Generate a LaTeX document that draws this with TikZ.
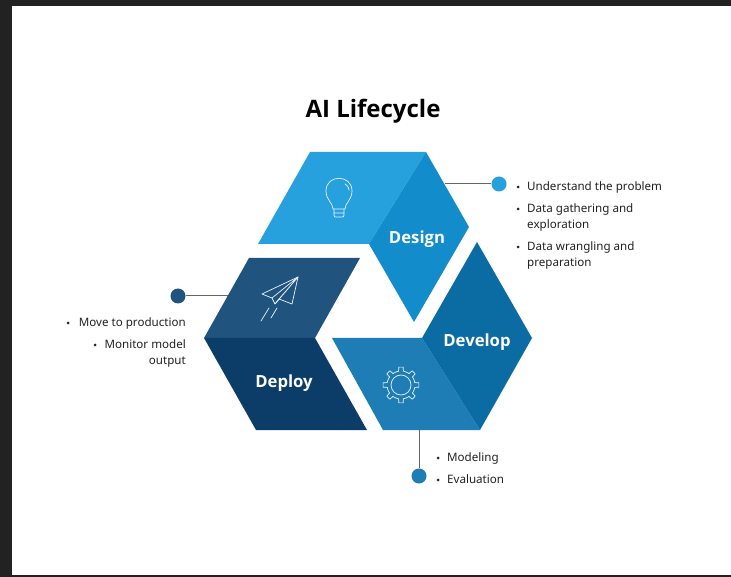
\documentclass[tikz,border=0pt]{standalone}
\usepackage{fontspec}
\setmainfont{Noto Sans}
\newfontfamily\heavyfont{Open Sans}[BoldFont={Open Sans Bold}]
\usepackage{tikz}
\definecolor{frame}{HTML}{222222}
\definecolor{lightdesign}{HTML}{27A0DE}
\definecolor{darkdesign}{HTML}{128CCB}
\definecolor{lightdevelop}{HTML}{1E7DB4}
\definecolor{darkdevelop}{HTML}{0B6BA3}
\definecolor{lightdeploy}{HTML}{20547E}
\definecolor{darkdeploy}{HTML}{0B3D68}
\definecolor{ink}{HTML}{222222}
\begin{document}
\begin{tikzpicture}[x=1pt,y=-1pt,
  title/.style={font=\heavyfont\fontsize{24}{30}\selectfont\bfseries,text=black,inner sep=0pt},
  phase/.style={font=\heavyfont\fontsize{16.7}{20}\selectfont\bfseries,text=white,inner sep=0pt},
  item/.style={font=\fontsize{11.6}{16}\selectfont,text=ink,inner sep=0pt,align=left,anchor=north west},
  itemr/.style={font=\fontsize{11.6}{16}\selectfont,text=ink,inner sep=0pt,align=right,anchor=north east},
  dotmark/.style={circle,fill=ink,inner sep=0pt,minimum size=3pt},
  pin/.style={circle,inner sep=0pt,minimum size=15pt},
  lead/.style={draw=black!60,line width=1pt},
  icon/.style={draw=white!90!lightdesign,line width=0.7pt,line join=round,line cap=round}]
\useasboundingbox (0,0) rectangle (731,577);
\fill[frame] (0,0) rectangle (731,577);
\fill[white] (12,6) rectangle (731,575);
% panels
\fill[lightdesign] (310,152) -- (426,152) -- (369,244) -- (258,244) -- cycle;
\fill[darkdesign] (426,152) -- (469,227) -- (414,322) -- (369,244) -- cycle;
\fill[lightdeploy] (249,258) -- (360,258) -- (315,338) -- (204,338) -- cycle;
\fill[darkdeploy] (204,338) -- (315,338) -- (367,430) -- (256,430) -- cycle;
\fill[lightdevelop] (332,338) -- (422,338) -- (480,430) -- (383,430) -- cycle;
\fill[darkdevelop] (477,242) -- (532,338) -- (480,430) -- (422,338) -- cycle;
% labels
\node[title] (title) at (373,111) {AI Lifecycle};
\node[phase] (design) at (417,239) {Design};
\node[phase] (develop) at (477,342) {Develop};
\node[phase] (deploy) at (284,383) {Deploy};
% bulb
\draw[icon] (333,209) .. controls (333,203) and (326,200) .. (326,191) .. controls (326,174) and (352,174) .. (352,191) .. controls (352,200) and (345,203) .. (345,209) -- cycle;
\draw[icon] (334,209) -- (334,215) .. controls (334,217) and (335,217) .. (336,217) -- (342,217) .. controls (343,217) and (344,217) .. (344,215) -- (344,209) (334,213) -- (344,213);
\draw[icon] (345,184) .. controls (348,186) and (349,188) .. (349,190);
% plane
\draw[icon] (298,277) -- (262,294) -- (272,298) -- (275,304) -- (279,299) -- (292,304) -- cycle;
\draw[icon] (298,277) -- (272,298) (298,277) -- (275,304) (298,277) -- (279,299);
\draw[icon] (269,308) -- (261,321) (277,308) -- (271,318);
% gear
\begin{scope}[shift={(401,385)}]
\foreach \a in {0,45,...,315} {
  \draw[icon] (\a-10:14) -- (\a-7:18) -- (\a+7:18) -- (\a+10:14) arc[start angle=\a+10,end angle=\a+35,radius=14];
}
\draw[icon] (0,0) circle (10);
\end{scope}
% pins
\node[pin,fill=lightdesign] (pindesign) at (499,184) {};
\node[pin,fill=lightdeploy] (pindeploy) at (178,296) {};
\node[pin,fill=lightdevelop] (pindevelop) at (419,476) {};
\coordinate (enddesign) at (445,184);
\coordinate (enddeploy) at (228,296);
\coordinate (enddevelop) at (419,430);
\draw[lead] (pindesign) -- (enddesign);
\draw[lead] (pindeploy) -- (enddeploy);
\draw[lead] (pindevelop) -- (enddevelop);
% lists
\foreach \n/\y/\t in {a/181/{Understand the problem},b/203/{Data gathering and\\exploration},c/241/{Data wrangling and\\preparation}} {
  \node[dotmark] (dot\n) at (518,\y+6) {};
  \node[item] (text\n) at (527,\y) {\t};
}
\foreach \n/\y/\t in {d/452/Modeling,e/474/Evaluation} {
  \node[dotmark] (dot\n) at (438,\y+6) {};
  \node[item] (text\n) at (447,\y) {\t};
}
\node[dotmark] (dotf) at (68,323) {};
\node[itemr] (textf) at (186,317) {Move to production};
\node[dotmark] (dotg) at (95,345) {};
\node[itemr] (textg) at (186,339) {Monitor model\\output};
\end{tikzpicture}
\end{document}
